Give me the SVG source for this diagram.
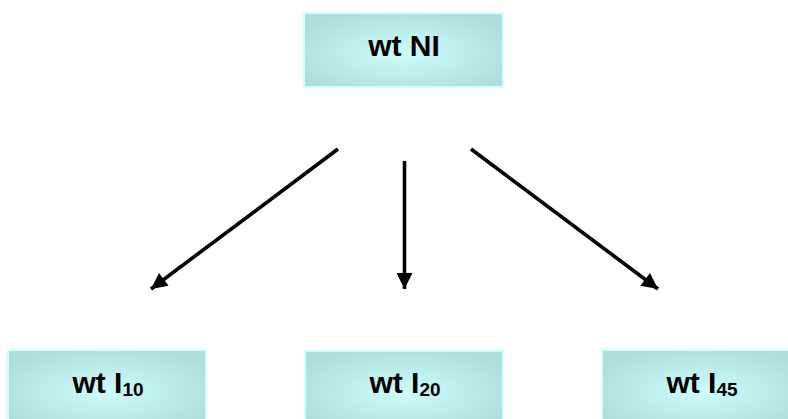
<svg xmlns="http://www.w3.org/2000/svg" width="788" height="419" viewBox="0 0 788 419">
  <style>
    .box { fill: url(#cyanGlow); stroke: #cfffff; stroke-width: 2; }
    .label { font-family: "Liberation Sans", Arial, sans-serif; font-weight: bold; font-size: 30px; fill: #000; text-anchor: middle; }
    .sub { font-size: 19px; }
    .arrow { stroke: #000; stroke-width: 3.6; fill: none; marker-end: url(#head); }
  </style>
  <defs>
    <radialGradient id="cyanGlow" cx="50%" cy="55%" r="60%">
      <stop offset="0" stop-color="#ccfcfc"/>
      <stop offset="1" stop-color="#afdddd"/>
    </radialGradient>
    <marker id="head" viewBox="0 0 10 10" refX="10" refY="5" markerUnits="userSpaceOnUse" markerWidth="17" markerHeight="16" orient="auto">
      <path d="M0,0 L10,5 L0,10 z" fill="#000"/>
    </marker>
  </defs>

  <g id="node-wt-NI">
    <rect class="box" x="304" y="13" width="199" height="74"/>
    <text class="label" x="404" y="56">wt NI</text>
  </g>

  <g id="node-wt-I10">
    <rect class="box" x="8" y="350" width="198" height="76"/>
    <text class="label" x="108" y="393">wt I<tspan class="sub" dy="3">10</tspan></text>
  </g>

  <g id="node-wt-I20">
    <rect class="box" x="305" y="351" width="198" height="76"/>
    <text class="label" x="405" y="393">wt I<tspan class="sub" dy="3">20</tspan></text>
  </g>

  <g id="node-wt-I45">
    <rect class="box" x="602" y="350" width="198" height="76"/>
    <text class="label" x="702" y="393">wt I<tspan class="sub" dy="3">45</tspan></text>
  </g>

  <g id="connectors">
    <line class="arrow" x1="338" y1="149" x2="151" y2="289"/>
    <line class="arrow" x1="404.5" y1="161" x2="404.5" y2="289"/>
    <line class="arrow" x1="471" y1="149" x2="658" y2="289"/>
  </g>
</svg>
